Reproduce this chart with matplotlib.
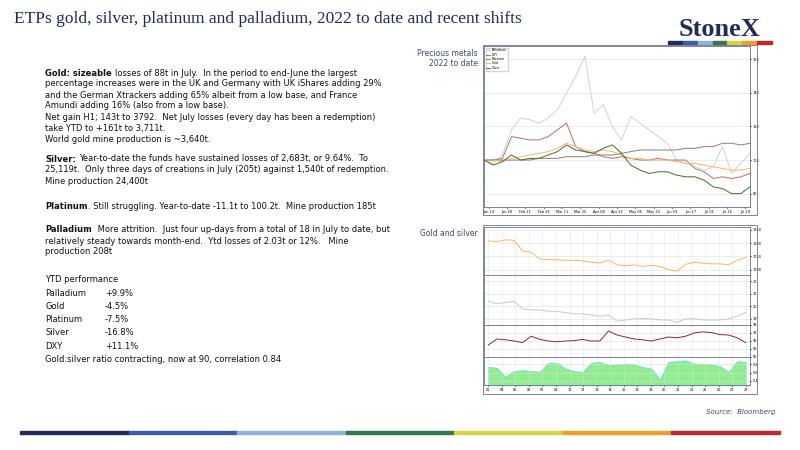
import matplotlib.pyplot as plt
import numpy as np

W, H = 800, 450

# ---- data ----
weeks = ["Jan 14", "Jan 28", "Feb 11", "Feb 25", "Mar 11", "Mar 25", "Apr 08", "Apr 22",
         "May 06", "May 20", "Jun 03", "Jun 17", "Jul 01", "Jul 15", "Jul 29"]
palladium = [100, 98, 103, 118, 125, 124, 122, 125, 130, 140, 150, 162, 128, 133, 120,
             112, 126, 122, 118, 114, 110, 100, 98, 96, 94, 96, 108, 92, 98, 104]
gold_n = [100, 100, 99, 101, 102, 103, 104, 105, 107, 110, 108, 106, 105, 106, 105,
          103, 101, 101, 100, 100, 100, 99, 98, 98, 97, 96, 95, 94, 94, 95]
silver_n = [100, 97, 99, 103, 100, 101, 101, 103, 105, 109, 106, 105, 104, 107, 109,
            104, 97, 94, 92, 93, 93, 91, 90, 90, 88, 84, 83, 80, 80, 84]
platinum_n = [100, 100, 101, 114, 113, 112, 112, 114, 118, 122, 108, 105, 104, 102, 101,
              102, 101, 100, 100, 101, 100, 100, 100, 95, 93, 89, 90, 89, 90, 92]
dxy_n = [100, 100, 100, 100, 100, 100, 101, 101, 101, 102, 102, 102, 103, 103, 103,
         104, 105, 106, 106, 106, 106, 106, 107, 107, 108, 108, 110, 110, 109, 110]

gold_px = [1808, 1805, 1812, 1810, 1770, 1765, 1740, 1738, 1737, 1735, 1735, 1733, 1728, 1725,
           1736, 1718, 1715, 1718, 1712, 1716, 1712, 1700, 1695, 1720, 1728, 1724, 1722, 1722,
           1718, 1735, 1745]
silver_px = [20.4, 20.2, 20.3, 20.4, 19.8, 19.7, 19.7, 19.6, 19.6, 19.5, 19.4, 19.4, 19.3, 19.2,
             19.3, 18.8, 18.9, 19.0, 19.0, 19.0, 18.9, 18.9, 18.7, 19.0, 19.0, 18.9, 18.9, 18.9,
             19.0, 19.2, 19.5]
ratio = [89.0, 90.5, 90.3, 90.0, 89.6, 91.2, 90.4, 90.0, 89.8, 90.0, 90.1, 90.4, 90.0, 90.0,
         92.5, 91.5, 91.0, 90.5, 90.3, 90.0, 90.5, 91.0, 90.8, 91.2, 92.0, 92.3, 92.1, 91.6,
         91.5, 90.8, 89.6]
corr = [0.74, 0.72, 0.50, 0.64, 0.66, 0.64, 0.62, 0.84, 0.84, 0.70, 0.64, 0.62, 0.84, 0.86,
        0.78, 0.80, 0.82, 0.80, 0.74, 0.70, 0.44, 0.86, 0.88, 0.90, 0.82, 0.82, 0.80, 0.76,
        0.62, 0.88, 0.86]
day_labels = ["01", "04", "05", "06", "07", "08", "11", "12", "13", "14", "15", "18", "19",
              "20", "21", "22", "25", "26", "27", "28"]

perf_names = ["Palladium", "Gold", "Platinum", "Silver", "DXY"]
perf_vals = ["+9.9%", "-4.5%", "-7.5%", "-16.8%", "+11.1%"]

band_colors = ["#1f2d57", "#3a5da8", "#8db4dc", "#2f7a4b", "#d6d23a", "#f0a020", "#c0282d"]

fig = plt.figure(figsize=(8, 4.5), dpi=100)
fig.patch.set_facecolor("white")


def fx(x):
    return x / W


def fy(y):
    return 1 - y / H


# ---- title + logo ----
fig.text(fx(14), fy(19), "ETPs gold, silver, platinum and palladium, 2022 to date and recent shifts",
         family="Liberation Serif", fontsize=12.5, color="#1f2d57", va="center")
fig.text(fx(720), fy(29), "StoneX", family="Liberation Serif", fontsize=19, fontweight="bold",
         color="#1f2d57", ha="center", va="center")
seg = (772 - 668) / len(band_colors)
for i, c in enumerate(band_colors):
    fig.patches.append(plt.Rectangle((fx(668 + i * seg), fy(44)), fx(seg), 3 / H,
                                     transform=fig.transFigure, color=c))
seg = (780 - 20) / len(band_colors)
for i, c in enumerate(band_colors):
    fig.patches.append(plt.Rectangle((fx(20 + i * seg), fy(434)), fx(seg), 3 / H,
                                     transform=fig.transFigure, color=c))

# ---- left text ----
fig.canvas.draw()
renderer = fig.canvas.get_renderer()
FS = 6.0


def line(y, text, bold=None, gap=3):
    x = fx(45)
    if bold:
        t = fig.text(x, fy(y), bold, fontsize=FS, fontweight="bold", va="center", color="#111")
        bb = t.get_window_extent(renderer)
        x = (bb.x1 + gap) / fig.bbox.width
    fig.text(x, fy(y), text, fontsize=FS, va="center", color="#111")


line(73, "losses of 88t in July.  In the period to end-June the largest", bold="Gold: sizeable")
line(84, "percentage increases were in the UK and Germany with UK iShares adding 29%")
line(95, "and the German Xtrackers adding 65% albeit from a low base, and France")
line(106, "Amundi adding 16% (also from a low base).")
line(117, "Net gain H1; 143t to 3792.  Net July losses (every day has been a redemption)")
line(128, "take YTD to +161t to 3,711t.")
line(139, "World gold mine production is ~3,640t.")
line(159, "Year-to-date the funds have sustained losses of 2,683t, or 9.64%.  To", bold="Silver:")
line(170, "25,119t.  Only three days of creations in July (205t) against 1,540t of redemption.")
line(181, "Mine production 24,400t")
line(206, ". Still struggling. Year-to-date -11.1t to 100.2t.  Mine production 185t",
     bold="Platinum", gap=0)
line(230, " More attrition.  Just four up-days from a total of 18 in July to date, but", bold="Palladium")
line(241, "relatively steady towards month-end.  Ytd losses of 2.03t or 12%.   Mine")
line(252, "production 208t")
line(279, "YTD performance")
for i, (n, v) in enumerate(zip(perf_names, perf_vals)):
    fig.text(fx(45), fy(293 + i * 13.3), n, fontsize=FS, va="center", color="#111")
    fig.text(fx(105), fy(293 + i * 13.3), v, fontsize=FS, va="center", color="#111")
line(359.5, "Gold:silver ratio contracting, now at 90, correlation 0.84")

fig.text(fx(478), fy(53), "Precious metals", fontsize=5.5, ha="right", va="center", color="#3a4a70")
fig.text(fx(478), fy(63), "2022 to date", fontsize=5.5, ha="right", va="center", color="#3a4a70")
fig.text(fx(478), fy(233), "Gold and silver", fontsize=5.5, ha="right", va="center", color="#3a4a70")
fig.text(fx(775), fy(412), "Source:  Bloomberg", fontsize=5, style="italic", ha="right",
         va="center", color="#3a4a70")


def style(ax, labelright=True):
    ax.tick_params(labelsize=2.5, length=1, pad=1, labelleft=False, labelright=labelright,
                   left=False, right=True)
    ax.grid(True, color="#dddddd", linewidth=0.4)
    for s in ax.spines.values():
        s.set_color("#6a7090")
        s.set_linewidth(0.6)


# ---- top chart ----
ax = fig.add_axes([fx(484), fy(207), fx(266), (207 - 46) / H])
x = np.arange(len(gold_n))
ax.plot(x, palladium, color="#cfd3d8", lw=0.7, label="Palladium")
ax.plot(x, dxy_n, color="#8a8070", lw=0.7, label="DXY")
ax.plot(x, platinum_n, color="#c06a6a", lw=0.7, label="Platinum")
ax.plot(x, gold_n, color="#f5b860", lw=0.7, label="Gold")
ax.plot(x, silver_n, color="#4a6a30", lw=0.7, label="Silver")
ax.set_xlim(0, len(x) - 1)
ax.set_ylim(72, 168)
ax.set_yticks([80, 100, 120, 140, 160])
ax.set_xticks(np.linspace(0.5, len(x) - 1.5, len(weeks)))
ax.set_xticklabels(weeks)
style(ax)
ax.grid(False, axis="x")
ax.legend(loc="upper left", fontsize=2.2, frameon=True, handlelength=1, borderpad=0.3,
          labelspacing=0.1, fancybox=False)
fig.patches.append(plt.Rectangle((fx(483), fy(215)), fx(274), (215 - 45) / H,
                                 transform=fig.transFigure, fill=False, ec="#6a7090", lw=0.6))

# ---- bottom chart ----
d = np.arange(len(gold_px))
panels = [(227, 275), (275, 325), (325, 357), (357, 385)]
axes = [fig.add_axes([fx(484), fy(b), fx(266), (b - t) / H]) for t, b in panels]
axes[0].plot(d, gold_px, color="#f5b860", lw=0.7)
axes[0].set_ylim(1680, 1860)
axes[1].plot(d, silver_px, color="#c8c8c8", lw=0.7)
axes[1].set_ylim(18.5, 22.5)
axes[2].plot(d, ratio, color="#8a2a30", lw=0.7)
axes[2].set_ylim(86, 94)
axes[3].fill_between(d, corr, 0.3, color="#90ee90", edgecolor="#40e0d0", lw=0.4)
axes[3].set_ylim(0.3, 0.98)
for a in axes:
    a.set_xlim(-0.5, len(d) - 0.5)
    a.set_xticks(np.linspace(0, len(d) - 1, len(day_labels)))
    style(a)
    a.grid(True, axis="x", linestyle="--")
    a.tick_params(labelbottom=False)
axes[3].tick_params(labelbottom=True)
axes[3].set_xticklabels(day_labels)
fig.patches.append(plt.Rectangle((fx(483), fy(394)), fx(274), (394 - 225) / H,
                                 transform=fig.transFigure, fill=False, ec="#6a7090", lw=0.6))

fig.savefig("out.png", dpi=100)
